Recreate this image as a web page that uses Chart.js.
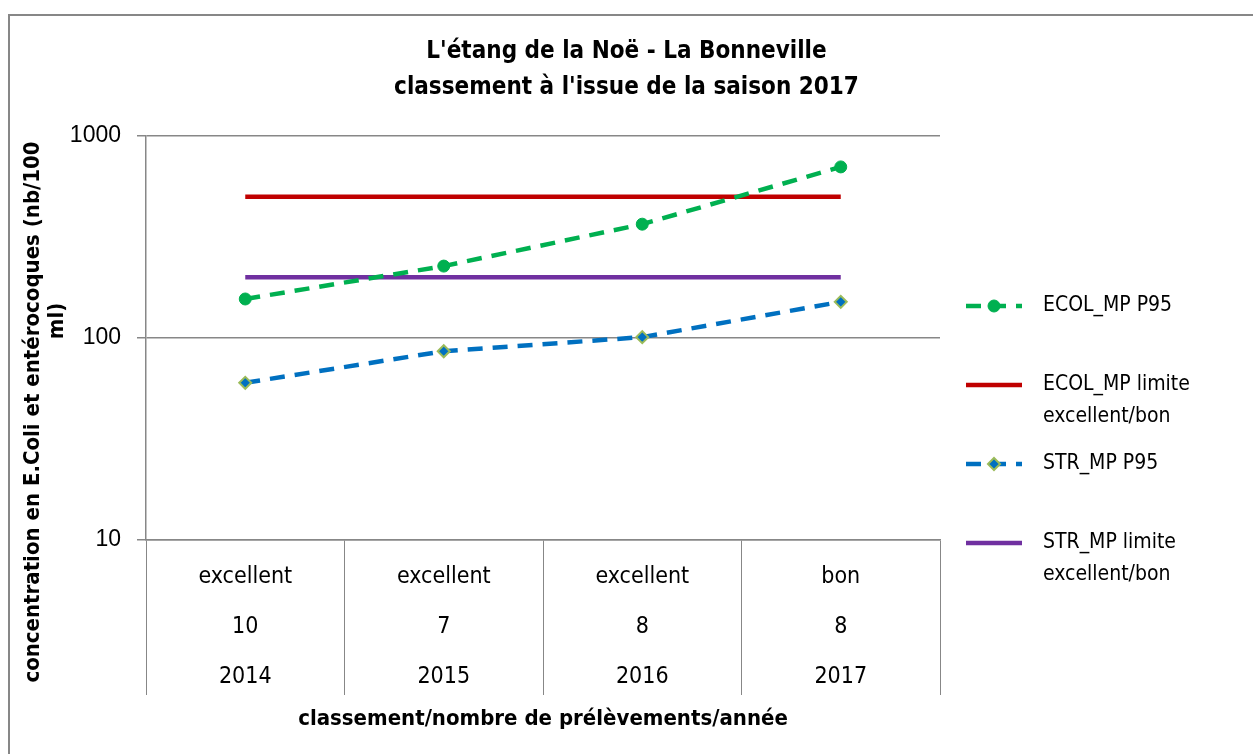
<!DOCTYPE html>
<html>
<head>
<meta charset="utf-8">
<script src="https://cdn.jsdelivr.net/npm/chart.js@4"></script>
<style>
  body { margin: 0; background: #fff; }
</style>
</head>
<body>
<canvas id="qualityChart" width="1253" height="754"></canvas>
<script>
// data
const years = ['2014', '2015', '2016', '2017'];
const classements = ['excellent', 'excellent', 'excellent', 'bon'];
const prelevements = ['10', '7', '8', '8'];
const ecolP95 = [156, 227, 366, 703];
const ecolLimite = [500, 500, 500, 500];
const strP95 = [60, 86, 101, 151];
const strLimite = [200, 200, 200, 200];
const yTicks = [10, 100, 1000];
const titleLines = ["L'étang de la Noë - La Bonneville", "classement à l'issue de la saison 2017"];
const yTitleLines = ['concentration en E.Coli et entérocoques (nb/100', 'ml)'];
const seriesNames = [
  ['ECOL_MP P95'],
  ['ECOL_MP limite', 'excellent/bon'],
  ['STR_MP P95'],
  ['STR_MP limite', 'excellent/bon']
];

const FONT = "'Liberation Sans Narrow', 'DejaVu Sans Condensed', 'Liberation Sans', sans-serif";
const GRID = '#878787';

function marker(c, ds, x, y) {
  c.save();
  c.fillStyle = ds.pointBackgroundColor;
  c.strokeStyle = ds.pointBorderColor;
  c.lineWidth = ds.pointBorderWidth;
  Chart.helpers.drawPoint(c, {
    pointStyle: ds.pointStyle,
    radius: ds.pointRadius,
    rotation: 0,
    borderWidth: ds.pointBorderWidth
  }, x, y);
  c.restore();
}

// title, frame, y title and legend drawn on the canvas
const decorPlugin = {
  id: 'decor',
  beforeDraw(chart) {
    const c = chart.ctx;
    c.save();
    c.strokeStyle = GRID;
    c.lineWidth = 2;
    c.strokeRect(9, 15, chart.width + 20, chart.height + 20);
    c.restore();
  },
  afterDraw(chart) {
    const c = chart.ctx;
    const area = chart.chartArea;
    c.save();
    c.fillStyle = '#000';
    c.textAlign = 'center';
    c.textBaseline = 'middle';
    c.font = 'bold 24px ' + FONT;
    titleLines.forEach((t, i) => c.fillText(t, chart.width / 2, 52 + i * 36));

    // y axis title, centred a bit lower than the plot like the original
    c.save();
    c.translate(33, 412);
    c.rotate(-Math.PI / 2);
    c.font = 'bold 22px ' + FONT;
    c.fillText(yTitleLines[0], 0, 0);
    c.restore();
    c.save();
    c.translate(57, 321);
    c.rotate(-Math.PI / 2);
    c.font = 'bold 22px ' + FONT;
    c.fillText(yTitleLines[1], 0, 0);
    c.restore();

    // legend
    const x0 = area.right + 26, x1 = area.right + 82;
    chart.data.datasets.forEach((ds, i) => {
      const y = 306 + i * 79;
      c.beginPath();
      c.strokeStyle = ds.borderColor;
      c.lineWidth = ds.borderWidth;
      c.setLineDash(ds.borderDash || []);
      c.lineCap = 'butt';
      c.moveTo(x0, y);
      c.lineTo(x1, y);
      c.stroke();
      c.setLineDash([]);
      if (ds.pointRadius > 0) marker(c, ds, (x0 + x1) / 2, y);
      c.fillStyle = '#000';
      c.textAlign = 'left';
      c.font = '21px ' + FONT;
      seriesNames[i].forEach((t, j) => c.fillText(t, area.right + 103, y + j * 32));
    });
    c.restore();
  }
};

const ctx = document.getElementById('qualityChart').getContext('2d');
const qualityChart = new Chart(ctx, {
  type: 'line',
  data: {
    labels: years.map((y, i) => [classements[i], prelevements[i], y]),
    datasets: [{
      label: seriesNames[0].join(' '),
      data: ecolP95,
      borderColor: '#00b050',
      borderWidth: 4.5,
      borderDash: [15, 10],
      pointStyle: 'circle',
      pointRadius: 6,
      pointBackgroundColor: '#00b050',
      pointBorderColor: '#00b050',
      pointBorderWidth: 1
    }, {
      label: seriesNames[1].join(' '),
      data: ecolLimite,
      borderColor: '#c00000',
      borderWidth: 4.5,
      pointRadius: 0
    }, {
      label: seriesNames[2].join(' '),
      data: strP95,
      borderColor: '#0070c0',
      borderWidth: 4.5,
      borderDash: [15, 10],
      pointStyle: 'rectRot',
      pointRadius: 6,
      pointBackgroundColor: '#0070c0',
      pointBorderColor: '#9bbb59',
      pointBorderWidth: 2
    }, {
      label: seriesNames[3].join(' '),
      data: strLimite,
      borderColor: '#7030a0',
      borderWidth: 4.5,
      pointRadius: 0
    }]
  },
  options: {
    responsive: false,
    animation: false,
    layout: { padding: { left: 21, top: 136, right: 313, bottom: 20 } },
    plugins: {
      legend: { display: false },
      title: { display: false },
      tooltip: { enabled: false }
    },
    scales: {
      x: {
        offset: true,
        grid: { offset: true, drawOnChartArea: false, color: GRID, tickLength: 155, lineWidth: 1 },
        border: { color: GRID, width: 1.5 },
        ticks: {
          padding: -143,
          color: '#000',
          font: { family: FONT, size: 23, lineHeight: 50 / 23 }
        },
        title: {
          display: true,
          text: 'classement/nombre de prélèvements/année',
          color: '#000',
          font: { family: FONT, size: 22, weight: 'bold' },
          padding: { top: 0, bottom: 2 }
        },
        afterFit(scale) { scale.height = 194; }
      },
      y: {
        type: 'logarithmic',
        min: 10,
        max: 1000,
        afterBuildTicks(scale) { scale.ticks = yTicks.map(v => ({ value: v })); },
        grid: { color: GRID, tickLength: 9, lineWidth: 1.5 },
        border: { color: GRID, width: 1.5 },
        ticks: {
          padding: 16,
          color: '#000',
          font: { family: "'Liberation Sans', sans-serif", size: 23 },
          callback: v => String(v)
        },
        title: { display: false },
        afterFit(scale) { scale.width = 125; }
      }
    }
  },
  plugins: [decorPlugin]
});
</script>
</body>
</html>
